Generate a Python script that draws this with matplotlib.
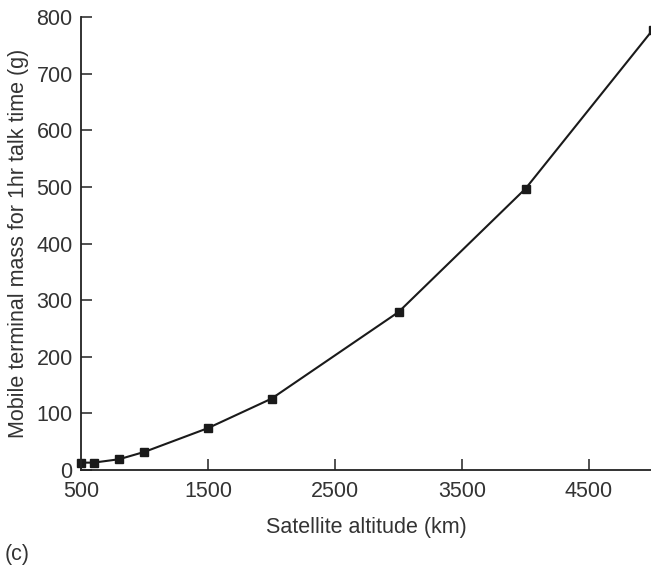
import matplotlib.pyplot as plt

plt.rcParams['font.family'] = ['Liberation Sans', 'DejaVu Sans']

# satellite altitude (km) vs terminal mass (g)
altitude = [500, 600, 800, 1000, 1500, 2000, 3000, 4000, 5000]
mass = [13, 13, 19, 32, 74, 126, 279, 497, 777]

x_ticks = [500, 1500, 2500, 3500, 4500]
y_ticks = [0, 100, 200, 300, 400, 500, 600, 700, 800]

fig = plt.figure(figsize=(6.51, 5.69), dpi=100)
ax = fig.add_axes([0.1244, 0.174, 0.878, 0.796])

ax.plot(altitude, mass, color='#1a1a1a', lw=1.5, marker='s', ms=6,
        clip_on=False)

ax.set_xlim(500, 5000)
ax.set_ylim(0, 800)
ax.set_xticks(x_ticks)
ax.set_yticks(y_ticks)
ax.tick_params(direction='in', length=8, width=1.2, labelsize=15.5,
               colors='#333333')
ax.tick_params(axis='x', pad=8)
ax.tick_params(axis='y', pad=6)

for s in ['top', 'right']:
    ax.spines[s].set_visible(False)
for s in ['left', 'bottom']:
    ax.spines[s].set_linewidth(1.3)
    ax.spines[s].set_color('#222222')

ax.set_xlabel('Satellite altitude (km)', fontsize=15.5, color='#333333',
              labelpad=11)
ax.set_ylabel('Mobile terminal mass for 1hr talk time (g)', fontsize=15.5,
              color='#333333', labelpad=5)

fig.text(0.007, 0.015, '(c)', fontsize=15.5, color='#333333')

fig.savefig('out.png', dpi=100)
